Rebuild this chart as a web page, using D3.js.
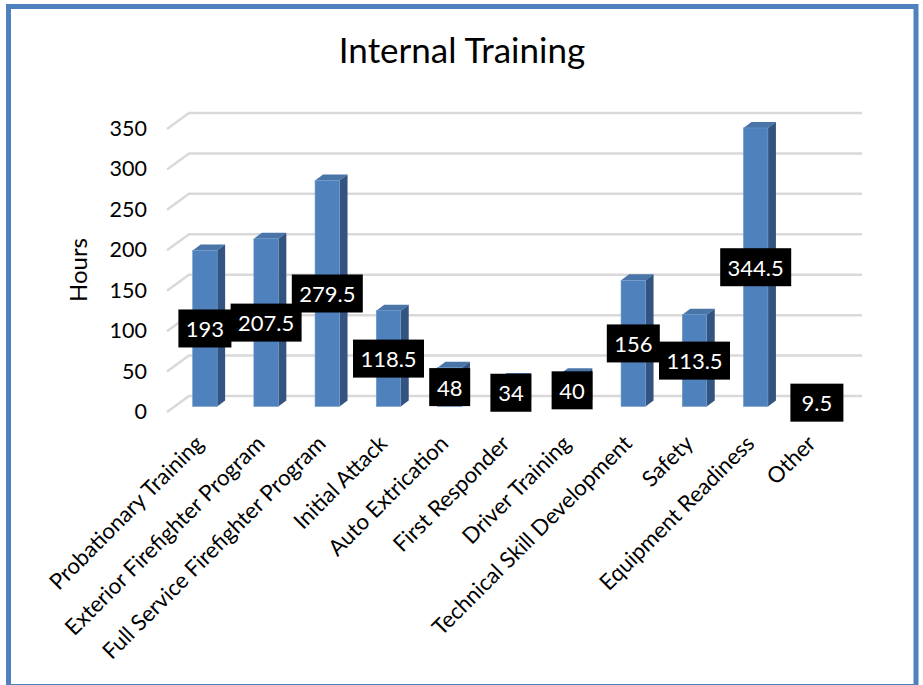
<!DOCTYPE html>
<html><head><meta charset="utf-8">
<script src="https://cdn.jsdelivr.net/npm/d3@7"></script>
<style>html,body{margin:0;padding:0;background:#fff}svg{display:block}text{font-family:Lato,"Open Sans",sans-serif}</style>
</head><body><svg id="c" width="923" height="685"></svg>
<script>
const categories = ["Probationary Training","Exterior Firefighter Program","Full Service Firefighter Program","Initial Attack","Auto Extrication","First Responder","Driver Training","Technical Skill Development","Safety","Equipment Readiness","Other"];
const hours = [193,207.5,279.5,118.5,48,34,40,156,113.5,344.5,9.5];
const tickValues = [0,50,100,150,200,250,300,350];
const titleText = "Internal Training";
const yTitle = "Hours";

const svg = d3.select("#c");
const frameBlue = "#4f81bd";
svg.append("rect").attr("x",8.5).attr("y",6.5).attr("width",907.5).attr("height",680).attr("fill","#fff").attr("stroke",frameBlue).attr("stroke-width",5);

const dx = 22, dy = 16;            // wall/floor depth
const bdx = 8, bdy = 6;            // bar depth
const y = d3.scaleLinear().domain([0,350]).range([412,129]);
const x = d3.scaleBand().domain(categories).range([174.3,847.5]).paddingInner(0.6).paddingOuter(0.3);

const grid = svg.append("g").attr("stroke","#d9d9d9").attr("stroke-width",2.5).attr("fill","none");
tickValues.forEach(t=>{
  grid.append("path").attr("d",`M${167},${y(t)}L${167+dx},${y(t)-dy}L${862},${y(t)-dy}`);
});

const base = y(0)-5.5;
const bars = svg.append("g").selectAll("g").data(categories).join("g");
const barTop = i => base-(y(0)-y(hours[i]));
bars.append("path").attr("fill","#4a75a8")
 .attr("d",(c,i)=>`M${x(c)},${barTop(i)}l${bdx},${-bdy}h${x.bandwidth()}l${-bdx},${bdy}z`);
bars.append("path").attr("fill","#335480")
 .attr("d",(c,i)=>`M${x(c)+x.bandwidth()},${barTop(i)}l${bdx},${-bdy}V${base-bdy}l${-bdx},${bdy}z`);
bars.append("rect").attr("fill","#4f81bd").attr("stroke","#6f99cb").attr("stroke-width",0.6)
 .attr("x",c=>x(c)).attr("width",x.bandwidth()).attr("y",(c,i)=>barTop(i)).attr("height",(c,i)=>base-barTop(i));

// y axis labels
svg.append("g").selectAll("text").data(tickValues).join("text")
 .attr("x",147).attr("y",t=>y(t)+1.5).attr("text-anchor","end").attr("dominant-baseline","middle")
 .attr("font-size",21.5).attr("fill","#000").text(d=>d);

svg.append("text").attr("transform","translate(87,270) rotate(-90)").attr("text-anchor","middle")
 .attr("font-size",24).attr("fill","#000").text(yTitle);

svg.append("text").attr("x",462).attr("y",63).attr("text-anchor","middle").attr("font-size",35).attr("fill","#000").text(titleText);

// category labels
svg.append("g").selectAll("text").data(categories).join("text")
 .attr("transform",c=>`translate(${x(c)+x.bandwidth()/2-4},${441}) rotate(-45)`)
 .attr("text-anchor","end").attr("dominant-baseline","middle")
 .attr("font-size",22.2).attr("fill","#000").text(c=>c);

// data labels
const halfW = {1:30,2:20.5,3:26.5,4:24,5:35.5};
const lab = svg.append("g").selectAll("g").data(categories).join("g")
 .attr("transform",(c,i)=>`translate(${x(c)+x.bandwidth()/2},${(barTop(i)+base)/2})`);
lab.append("rect").attr("fill","#000").attr("y",-19).attr("height",38)
 .attr("x",(c,i)=>-halfW[String(hours[i]).length])
 .attr("width",(c,i)=>2*halfW[String(hours[i]).length]);
lab.append("text").attr("text-anchor","middle").attr("y",8.5).attr("font-size",22).attr("fill","#fff").text((c,i)=>hours[i]);
</script></body></html>
